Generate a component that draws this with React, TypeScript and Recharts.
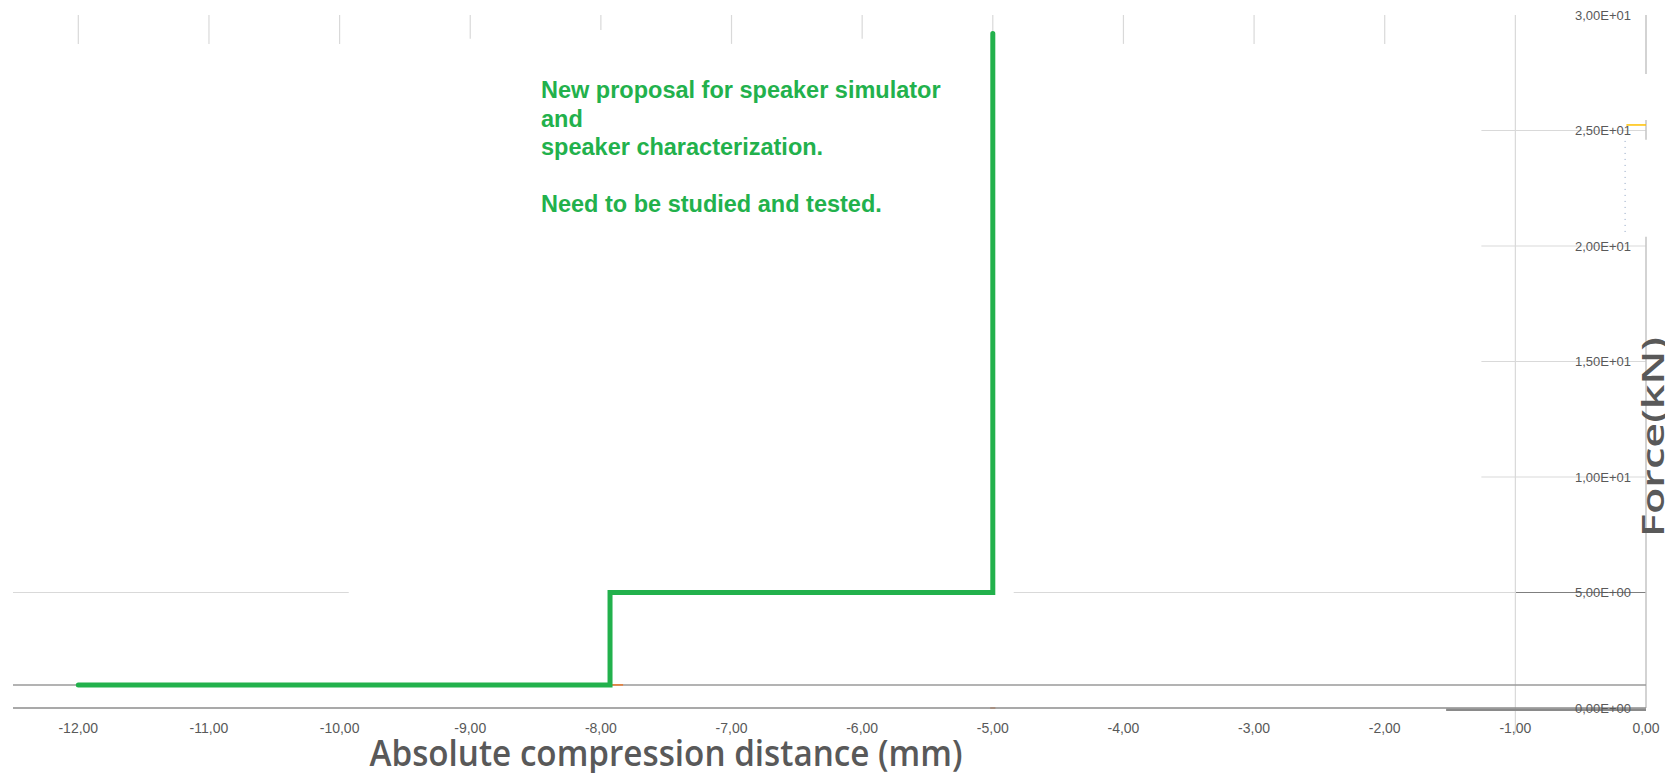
import React from 'react';
import { LineChart, Line, XAxis, YAxis, ReferenceLine } from 'recharts';

// ---- data ----
const xTicks = [-12, -11, -10, -9, -8, -7, -6, -5, -4, -3, -2, -1, 0];
const yTicks = [0, 5, 10, 15, 20, 25, 30];

const stepX = [-12, -7.93, -7.93, -5, -5];
const stepY = [1, 1, 5, 5, 29.2];

const dotX = [-0.16, -0.16];
const dotY = [24.55, 20.5];

// light vertical stubs at the top (x, lower end value)
const stubX = [-12, -11, -10, -9, -8, -7, -6, -5, -4, -3, -2];
const stubEnd = [28.75, 28.75, 28.75, 28.97, 29.35, 28.75, 28.97, 29.2, 28.75, 28.75, 28.75];

// partial horizontal gridlines [y, xFrom, xTo]
const gridY = [5, 5, 10, 15, 20, 25];
const gridFrom = [-12.5, -4.84, -1.26, -1.26, -1.26, -1.26];
const gridTo = [-9.93, -1.0, 0, 0, 0, 0];

// right axis line pieces at x = 0 [from, to]
const axisFrom = [30, 25.45, 20.4];
const axisTo = [27.45, 24.6, 0];

const baseLineY = 1.0;

const stepData = stepX.map((x, i) => ({ x, y: stepY[i] }));
const dotData = dotX.map((x, i) => ({ x, y: dotY[i] }));

const fmtX = (v: number) => v.toFixed(2).replace('.', ',');
const fmtY = (v: number) => {
  const exp = v === 0 ? 0 : Math.floor(Math.log10(Math.abs(v)));
  const mant = v / Math.pow(10, exp);
  const e = `${exp >= 0 ? '+' : '-'}${String(Math.abs(exp)).padStart(2, '0')}`;
  return `${mant.toFixed(2).replace('.', ',')}E${e}`;
};

const GREEN = '#22b14c';
const LIGHT = '#d9d9d9';
const TEXT = '#595959';

export default function App() {
  return (
    <div style={{ position: 'absolute', left: 0, top: 0, width: 1665, height: 773, background: '#fff' }}>
      <LineChart width={1665} height={773} margin={{ top: 15, right: 19, bottom: 0, left: 13 }}>
        <XAxis
          dataKey="x"
          type="number"
          domain={[-12.5, 0]}
          ticks={xTicks}
          allowDataOverflow
          tickFormatter={fmtX}
          height={65}
          tickLine={false}
          tickSize={0}
          tickMargin={15}
          axisLine={{ stroke: '#8c8c8c', strokeWidth: 1.5 }}
          tick={{ fill: TEXT, fontSize: 14, fontFamily: 'Liberation Sans, Arial, sans-serif' }}
          label={{
            content: () => (
              <text
                x={666}
                y={766}
                textAnchor="middle"
                fill={TEXT}
                fontSize={36}
                fontWeight={600}
                fontFamily="Open Sans, sans-serif"
                textLength={593}
                lengthAdjust="spacingAndGlyphs"
              >
                Absolute compression distance (mm)
              </text>
            ),
          }}
        />
        <YAxis
          yAxisId={0}
          type="number"
          orientation="right"
          mirror
          domain={[0, 30]}
          ticks={yTicks}
          allowDataOverflow
          tickFormatter={fmtY}
          axisLine={false}
          tickLine={false}
          tickSize={0}
          tickMargin={15}
          tick={{ fill: TEXT, fontSize: 13, fontFamily: 'Liberation Sans, Arial, sans-serif' }}
          label={{
            content: () => (
              <g transform="translate(1664 437) rotate(-90)">
                <text
                  x={0}
                  y={0}
                  textAnchor="middle"
                  fill={TEXT}
                  fontSize={31}
                  fontWeight={600}
                  fontFamily="Open Sans, sans-serif"
                  textLength={200}
                  lengthAdjust="spacingAndGlyphs"
                >
                  Force(kN)
                </text>
              </g>
            ),
          }}
        />

        {gridY.map((y, i) => (
          <ReferenceLine
            key={`g${i}`}
            segment={[{ x: gridFrom[i], y }, { x: gridTo[i], y }]}
            stroke={LIGHT}
            strokeWidth={1.2}
            ifOverflow="visible"
          />
        ))}
        <ReferenceLine
          segment={[{ x: -1.0, y: 5 }, { x: 0, y: 5 }]}
          stroke="#7f7f7f"
          strokeWidth={1.2}
          ifOverflow="visible"
        />
        {stubX.map((x, i) => (
          <ReferenceLine
            key={`s${i}`}
            segment={[{ x, y: 30 }, { x, y: stubEnd[i] }]}
            stroke={LIGHT}
            strokeWidth={1.2}
            ifOverflow="visible"
          />
        ))}
        <ReferenceLine
          segment={[{ x: -1, y: 30 }, { x: -1, y: -1.1 }]}
          stroke={LIGHT}
          strokeWidth={1.2}
          ifOverflow="visible"
        />
        {axisFrom.map((f, i) => (
          <ReferenceLine
            key={`a${i}`}
            segment={[{ x: 0, y: f }, { x: 0, y: axisTo[i] }]}
            stroke="#c4c4c4"
            strokeWidth={1.5}
            ifOverflow="visible"
          />
        ))}
        <ReferenceLine
          segment={[{ x: -12.5, y: baseLineY }, { x: 0, y: baseLineY }]}
          stroke="#9a9a9a"
          strokeWidth={1.5}
          ifOverflow="visible"
        />
        <ReferenceLine
          segment={[{ x: -1.53, y: -0.08 }, { x: 0, y: -0.08 }]}
          stroke="#8a8a8a"
          strokeWidth={2.5}
          ifOverflow="visible"
        />
        <ReferenceLine
          segment={[{ x: -7.93, y: baseLineY }, { x: -7.83, y: baseLineY }]}
          stroke="#ed7d31"
          strokeWidth={1.5}
          ifOverflow="visible"
        />
        <ReferenceLine
          segment={[{ x: -5.02, y: 0 }, { x: -4.98, y: 0 }]}
          stroke="#ed7d31"
          strokeWidth={1.5}
          ifOverflow="visible"
        />
        <ReferenceLine
          segment={[{ x: -0.15, y: 25.24 }, { x: 0, y: 25.24 }]}
          stroke="#ffc000"
          strokeWidth={1.5}
          ifOverflow="visible"
        />

        <Line
          data={dotData}
          dataKey="y"
          type="linear"
          stroke="#8aa0c0"
          strokeWidth={1}
          strokeDasharray="1 5"
          dot={false}
          activeDot={false}
          isAnimationActive={false}
        />
        <Line
          data={stepData}
          dataKey="y"
          type="linear"
          stroke={GREEN}
          strokeWidth={5}
          strokeLinejoin="miter"
          strokeLinecap="round"
          dot={false}
          activeDot={false}
          isAnimationActive={false}
        />
      </LineChart>
      <div
        style={{
          position: 'absolute',
          left: 541,
          top: 76,
          color: GREEN,
          fontFamily: 'Liberation Sans, Arial, sans-serif',
          fontWeight: 'bold',
          fontSize: 23.5,
          lineHeight: '28.5px',
          whiteSpace: 'pre',
        }}
      >
        {'New proposal for speaker simulator\nand\nspeaker characterization.\n\nNeed to be studied and tested.'}
      </div>
    </div>
  );
}
